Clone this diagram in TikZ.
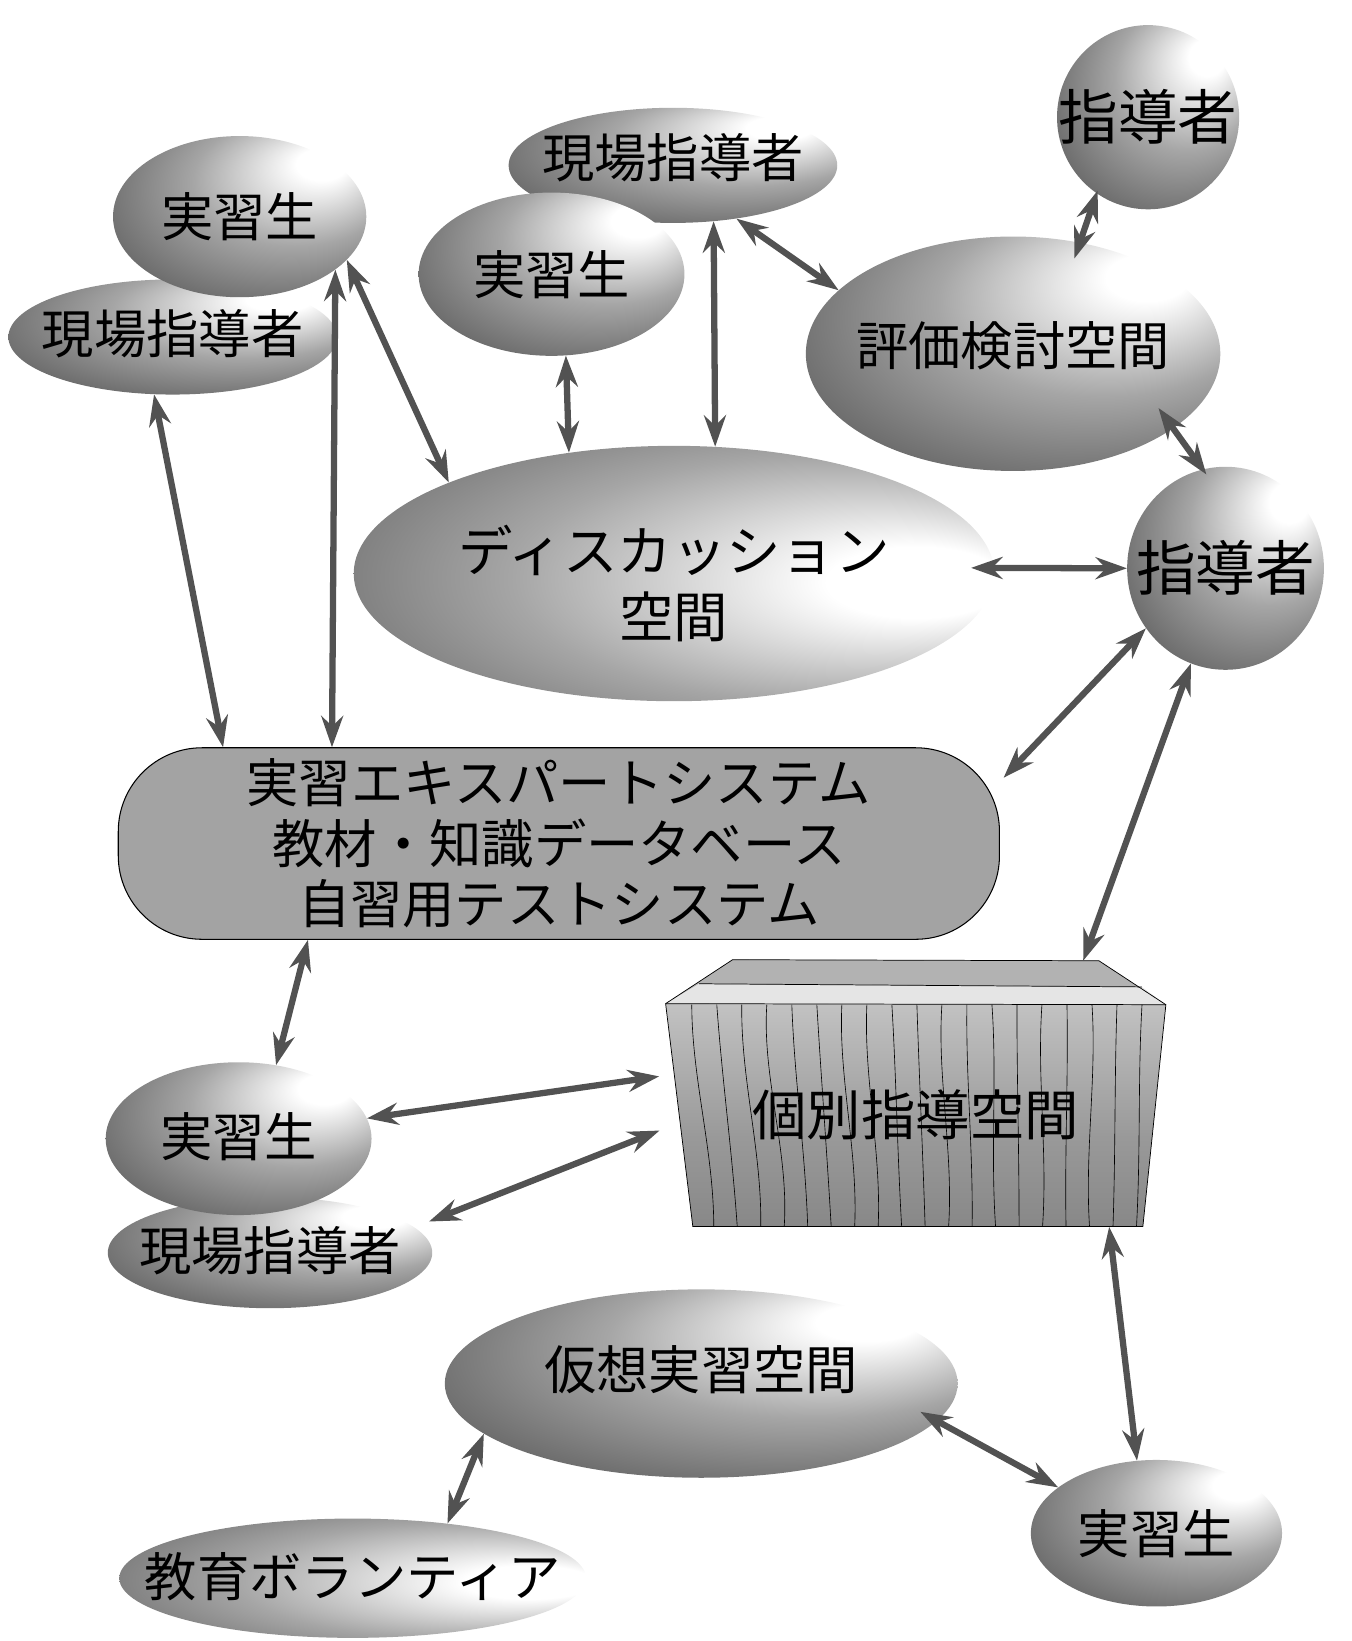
\documentclass[tikz,border=0pt]{standalone}
\usepackage{fontspec}
\setmainfont{Noto Sans CJK JP}
\usetikzlibrary{arrows.meta,calc,shapes.geometric}
\pgfdeclareradialshading{ballUR}{\pgfpoint{18bp}{18bp}}{color(0bp)=(white); color(5bp)=(white); color(20bp)=(black!35); color(34bp)=(black!58); color(50bp)=(black!74)}
\pgfdeclareradialshading{ballR}{\pgfpoint{22bp}{-2bp}}{color(0bp)=(white); color(7bp)=(white); color(24bp)=(black!35); color(38bp)=(black!58); color(50bp)=(black!74)}
\pgfdeclareverticalshading{boxfront}{100bp}{color(0bp)=(black!55); color(45bp)=(black!40); color(75bp)=(black!24); color(85bp)=(black!8); color(89bp)=(white); color(100bp)=(white)}
\newcommand\tx[2][0pt]{\makebox[0pt]{\smash{\raisebox{\dimexpr-0.38em+#1\relax}{#2}}}}
\begin{document}
\begin{tikzpicture}[x=1pt,y=-1pt,
  bub/.style={ellipse, inner sep=0pt, shading=ballUR, font=\fontsize{50}{60}\selectfont},
  bubR/.style={bub, shading=ballR},
  sysbox/.style={draw=black, line width=1pt, fill=black!36, rounded corners=80pt, inner sep=0pt, align=center, font=\fontsize{50}{58}\selectfont},
  arr/.style={{Stealth[length=30pt,width=21pt,inset=10pt]}-{Stealth[length=30pt,width=21pt,inset=10pt]}, line width=6pt, draw=black!68},
  facet/.style={draw=black, line width=0.7pt}]
\path[use as bounding box] (0,0) rectangle (1291,1568);

% top-left pair
\node[bub, minimum width=314, minimum height=110] (B) at (165,322) {\tx[3pt]{現場指導者}};
\node[bub, minimum width=242, minimum height=154] (A) at (229,207) {\tx{実習生}};
% top-middle pair
\node[bub, minimum width=314, minimum height=110] (C) at (643,158) {\tx[7pt]{現場指導者}};
\node[bub, minimum width=254, minimum height=156] (D) at (527,262) {\tx{実習生}};
% right side
\node[bub, minimum width=174, minimum height=176, font=\fontsize{57}{66}\selectfont] (E) at (1097,112) {\tx{指導者}};
\node[bub, minimum width=396, minimum height=224] (F) at (968,338) {\tx[8pt]{評価検討空間}};
\node[bubR, minimum width=612, minimum height=244, font=\fontsize{52}{62}\selectfont] (G) at (644,548) {\makebox[0pt]{\smash{\raisebox{-23pt}{\begin{tabular}{@{}c@{}}ディスカッション\\空間\end{tabular}}}}};
\node[bub, minimum width=188, minimum height=194, font=\fontsize{57}{66}\selectfont] (H) at (1171,543) {\tx{指導者}};
% system
\node[sysbox, minimum width=842, minimum height=183] (I) at (534,806) {実習エキスパートシステム\\教材・知識データベース\\自習用テストシステム};
% box (individual guidance space)
\fill[black!30] (700,917) -- (1050,918) -- (1114,960) -- (636,959) -- cycle;
\fill[black!10] (668,940) -- (1091,943) -- (1114,960) -- (636,959) -- cycle;
\shade[shading=boxfront] (636,959) -- (1114,960) -- (1092,1172) -- (662,1172) -- cycle;
\draw[facet] (636,959) -- (700,917) -- (1050,918) -- (1114,960);
\draw[facet] (668,940) -- (1091,943);
\draw[facet] (636,959) -- (1114,960) -- (1092,1172) -- (662,1172) -- cycle;
\foreach \i in {0,...,18} {
  \pgfmathsetmacro\xt{661+23.9*\i}
  \pgfmathsetmacro\xb{682+22.44*\i}
  \pgfmathsetmacro\w{5*sin(\i*97)}
  \draw[black, line width=0.6pt] (\xt,960) .. controls (\xt+\w,1030) and (\xb-\w,1100) .. (\xb,1172);
}
\node[minimum width=478, minimum height=213, inner sep=0pt, font=\fontsize{52}{60}\selectfont] (J) at (875,1065.5) {\tx{個別指導空間}};
\coordinate (Jt) at (1035,918);
% lower-left pair
\node[bub, minimum width=310, minimum height=106] (L) at (258,1197) {\tx[2pt]{現場指導者}};
\node[bub, minimum width=254, minimum height=146] (K) at (228,1088) {\tx[2pt]{実習生}};
% bottom
\node[bub, minimum width=490, minimum height=180] (M) at (670,1322) {\tx[13pt]{仮想実習空間}};
\node[bubR, minimum width=446, minimum height=114] (N) at (337,1508) {\tx[2pt]{教育ボランティア}};
\node[bub, minimum width=240, minimum height=140] (O) at (1105,1465) {\tx{実習生}};

% connectors
\draw[arr] (B.252) -- (I.164);
\draw[arr] (A.331) -- (I.157);
\draw[arr] (A.338) -- (G.158);
\draw[arr] (D.280) -- (G.131);
\draw[arr] (C.306) -- (G.72);
\draw[arr] (C.320) -- (F.160);
\draw[arr, shorten <=-3pt, shorten >=-16pt] (E.236) -- (F.59);
\draw[arr, shorten <=-24pt, shorten >=-6pt] (F.335) -- (H.103);
\draw[arr, shorten <=-22pt] (G.1) -- (H.180);
\draw[arr, shorten >=5pt] (H.217) -- (I.8);
\draw[arr] (H.250) -- (Jt);
\draw[arr] (I.201) -- (K.63);
\draw[arr, shorten >=6pt] (K.9) -- (J.171);
\draw[arr, shorten <=15pt, shorten >=6pt] (L.10) -- (J.183);
\draw[arr] (J.330) -- (O.105);
\draw[arr, shorten <=-18pt] (M.351) -- (O.155);
\draw[arr] (M.193) -- (N.30);
\end{tikzpicture}
\end{document}
